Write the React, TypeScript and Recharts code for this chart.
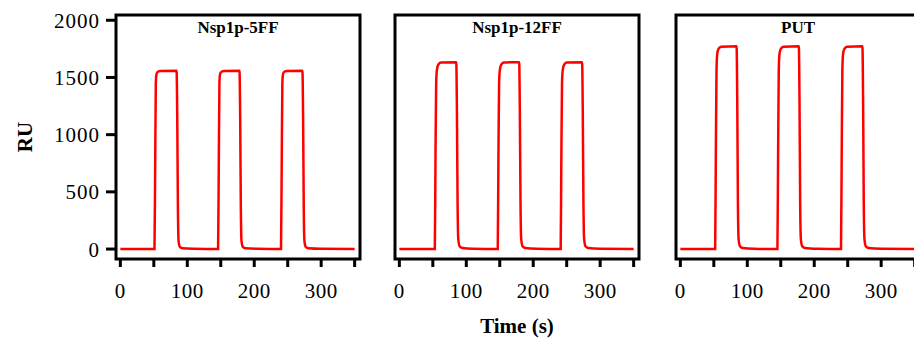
import { LineChart, Line, XAxis, YAxis, ReferenceArea } from 'recharts';

// Sensorgram traces: three injections per analyte, RU vs time (s)
const timeTicks = [0, 50, 100, 150, 200, 250, 300, 350];
const ruTicks = [0, 500, 1000, 1500, 2000];

const time5FF = [
  0,
  51, 52, 53, 54, 56, 60, 84, 85, 86, 87, 89, 93, 110,
  146, 147, 148, 149, 151, 155, 178, 179, 180, 181, 183, 187, 205,
  240, 241, 242, 243, 245, 249, 272, 273, 274, 275, 277, 281, 300,
  350,
];
const ru5FF = [
  0,
  0, 700, 1450, 1530, 1550, 1556, 1558, 1150, 350, 70, 20, 8, 3,
  0, 700, 1450, 1530, 1550, 1556, 1558, 1150, 350, 70, 20, 8, 3,
  0, 700, 1450, 1530, 1550, 1556, 1558, 1150, 350, 70, 20, 8, 3,
  1,
];

const time12FF = [
  0,
  53, 54, 55, 56, 58, 62, 85, 86, 87, 88, 90, 94, 110,
  147, 148, 149, 150, 152, 156, 179, 180, 181, 182, 184, 188, 205,
  241, 242, 243, 244, 246, 250, 273, 274, 275, 276, 278, 282, 300,
  350,
];
const ru12FF = [
  0,
  0, 800, 1450, 1560, 1610, 1630, 1634, 1200, 400, 90, 25, 10, 3,
  0, 800, 1450, 1560, 1610, 1630, 1634, 1200, 400, 90, 25, 10, 3,
  0, 800, 1450, 1560, 1610, 1630, 1634, 1200, 400, 90, 25, 10, 3,
  1,
];

const timePUT = [
  0,
  52, 53, 54, 55, 57, 61, 84, 85, 86, 87, 89, 93, 110,
  145, 146, 147, 148, 150, 154, 177, 178, 179, 180, 182, 186, 205,
  240, 241, 242, 243, 245, 249, 272, 273, 274, 275, 277, 281, 300,
  350,
];
const ruPUT = [
  0,
  0, 800, 1550, 1700, 1750, 1768, 1772, 1300, 400, 90, 25, 10, 3,
  0, 800, 1550, 1700, 1750, 1768, 1772, 1300, 400, 90, 25, 10, 3,
  0, 800, 1550, 1700, 1750, 1768, 1772, 1300, 400, 90, 25, 10, 3,
  1,
];

const X_DOMAIN: [number, number] = [-6.5, 358];
const Y_DOMAIN: [number, number] = [-87, 2046];

const serif = '"Liberation Serif", "Times New Roman", serif';
const tickLineStyle = { stroke: '#000', strokeWidth: 3 };

const zip = (t: number[], v: number[]) => t.map((time, i) => ({ time, ru: v[i] }));

const RULabel = (props: any) => {
  const vb = props.viewBox || { y: 15, height: 244 };
  const cx = 25;
  const cy = vb.y + vb.height / 2;
  return (
    <text
      x={cx}
      y={cy}
      transform={`rotate(-90, ${cx}, ${cy})`}
      textAnchor="middle"
      dominantBaseline="central"
      fontFamily={serif}
      fontWeight="bold"
      fontSize={21}
      fill="#000"
    >
      RU
    </text>
  );
};

interface PanelProps {
  title: string;
  time: number[];
  ru: number[];
  left: number;
  width: number;
  yAxisWidth: number;
  marginRight: number;
  first?: boolean;
  middle?: boolean;
}

const Panel = ({ title, time, ru, left, width, yAxisWidth, marginRight, first, middle }: PanelProps) => (
  <div style={{ position: 'absolute', left, top: 0 }}>
    <LineChart
      width={width}
      height={338}
      data={zip(time, ru)}
      margin={{ top: 15, right: marginRight, bottom: 0, left: 0 }}
    >
      <XAxis
        type="number"
        dataKey="time"
        domain={X_DOMAIN}
        ticks={timeTicks}
        interval={0}
        allowDataOverflow
        height={79}
        axisLine={false}
        tickLine={tickLineStyle}
        tickSize={8}
        tickMargin={16}
        tick={{ fill: '#000', fontSize: 21, fontFamily: serif, letterSpacing: 0.5 }}
        tickFormatter={(v: number) => (v % 100 === 0 ? String(v) : '')}
        label={
          middle
            ? {
                value: 'Time (s)',
                position: 'insideBottom',
                offset: 5,
                fill: '#000',
                fontSize: 21,
                fontWeight: 'bold',
                fontFamily: serif,
              }
            : undefined
        }
      />
      <YAxis
        type="number"
        domain={Y_DOMAIN}
        ticks={ruTicks}
        interval={0}
        allowDataOverflow
        width={yAxisWidth}
        axisLine={false}
        tickLine={tickLineStyle}
        tickSize={10}
        tickMargin={6}
        tick={first ? { fill: '#000', fontSize: 21, fontFamily: serif, letterSpacing: 1 } : false}
        label={first ? { content: RULabel } : undefined}
      />
      <ReferenceArea
        x1={X_DOMAIN[0]}
        x2={X_DOMAIN[1]}
        y1={Y_DOMAIN[0]}
        y2={Y_DOMAIN[1]}
        fill="none"
        fillOpacity={0}
        stroke="#000"
        strokeWidth={3}
        label={{
          value: title,
          position: 'insideTop',
          offset: 6,
          fill: '#000',
          fontSize: 17,
          fontWeight: 'bold',
          fontFamily: serif,
        }}
      />
      <Line
        type="monotone"
        dataKey="ru"
        stroke="#ff0000"
        strokeWidth={2.5}
        dot={false}
        isAnimationActive={false}
      />
    </LineChart>
  </div>
);

export default function App() {
  return (
    <div style={{ position: 'relative', width: 914, height: 338, overflow: 'hidden', background: '#fff' }}>
      <style>{'body{margin:0}'}</style>
      <Panel title="Nsp1p-5FF" time={time5FF} ru={ru5FF} left={0} width={375} yAxisWidth={116} marginRight={15} first />
      <Panel title="Nsp1p-12FF" time={time12FF} ru={ru12FF} left={365} width={284} yAxisWidth={30} marginRight={10} middle />
      <Panel title="PUT" time={timePUT} ru={ruPUT} left={646} width={274} yAxisWidth={30} marginRight={0} />
    </div>
  );
}
